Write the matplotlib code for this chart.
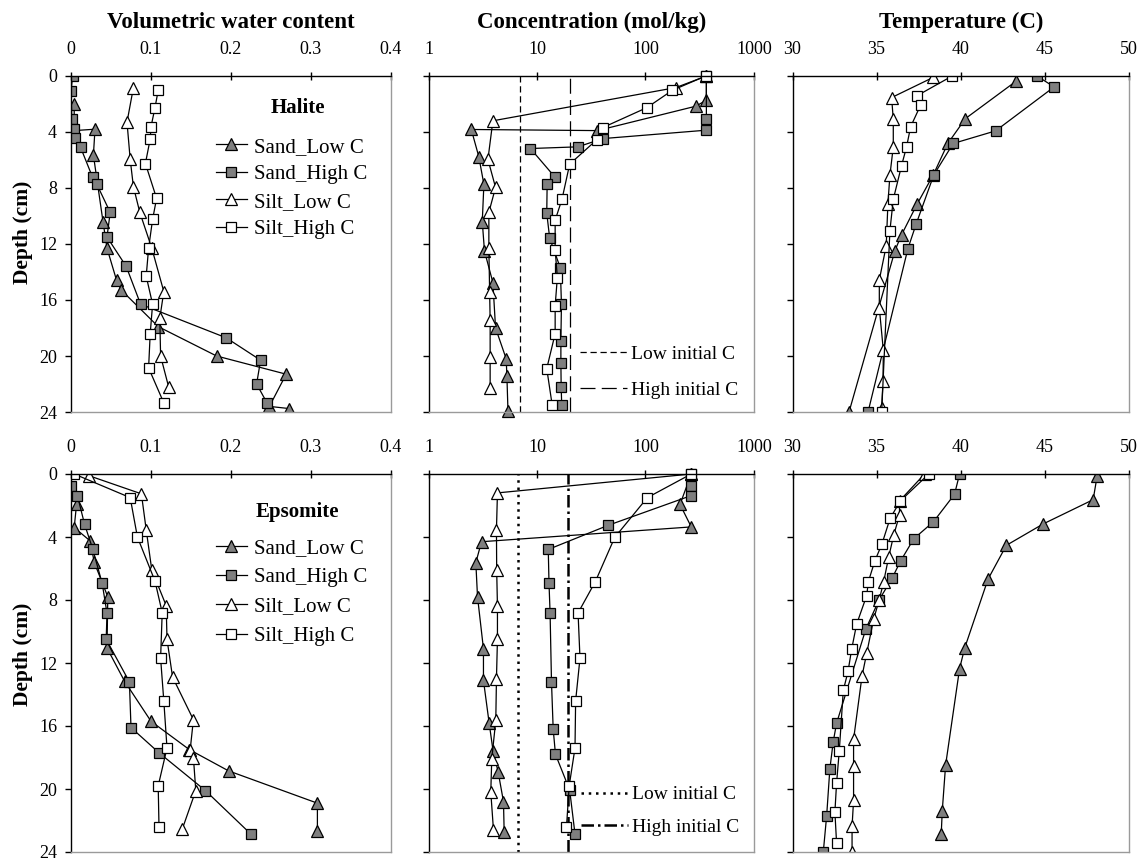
import matplotlib
matplotlib.use('Agg')
import matplotlib.pyplot as plt
from matplotlib.ticker import FixedLocator, NullLocator, FixedFormatter

plt.rcParams['font.family'] = ['Liberation Serif', 'DejaVu Serif']

# ---------------- Halite: volumetric water content ----------------
hal_vwc_sand_low = [0.004, 0.004, 0.030, 0.028, 0.040, 0.045, 0.057, 0.063, 0.109, 0.182, 0.269, 0.248, 0.272]
hal_vwc_sand_low_depth = [2.0, 3.9, 3.8, 5.65, 10.4, 12.3, 14.6, 15.3, 17.9, 20.0, 21.3, 23.6, 23.75]
hal_vwc_sand_high = [0.002, 0.0, 0.001, 0.004, 0.005, 0.012, 0.027, 0.032, 0.049, 0.045, 0.069, 0.087, 0.194, 0.237, 0.232, 0.245]
hal_vwc_sand_high_depth = [0, 1.07, 3.04, 3.82, 4.4, 5.1, 7.24, 7.7, 9.74, 11.5, 13.6, 16.3, 18.7, 20.3, 22.0, 23.35]
hal_vwc_silt_low = [0.078, 0.070, 0.074, 0.078, 0.086, 0.101, 0.116, 0.111, 0.112, 0.122]
hal_vwc_silt_low_depth = [0.83, 3.3, 5.96, 7.9, 9.74, 12.3, 15.4, 17.3, 20.0, 22.2]
hal_vwc_silt_high = [0.109, 0.105, 0.100, 0.099, 0.093, 0.107, 0.102, 0.097, 0.094, 0.102, 0.099, 0.097, 0.116]
hal_vwc_silt_high_depth = [1.02, 2.26, 3.63, 4.5, 6.25, 8.74, 10.24, 12.3, 14.3, 16.3, 18.4, 20.85, 23.35]

# ---------------- Halite: concentration (mol/kg) ----------------
hal_conc_sand_low = [364, 364, 290, 36, 2.48, 2.91, 3.24, 3.13, 3.28, 3.92, 4.15, 5.2, 5.28, 5.4]
hal_conc_sand_low_depth = [0, 1.73, 2.16, 3.9, 3.82, 5.77, 7.74, 10.4, 12.5, 14.75, 18.0, 20.2, 21.45, 23.9]
hal_conc_sand_high = [364, 364, 364, 40.5, 23.8, 8.7, 14.7, 12.4, 12.3, 13.1, 16.4, 16.8, 16.6, 16.6, 16.7, 16.9]
hal_conc_sand_high_depth = [0, 3.04, 3.87, 4.47, 5.06, 5.18, 7.24, 7.74, 9.8, 11.6, 13.7, 16.3, 18.9, 20.5, 22.2, 23.5]
hal_conc_silt_low = [364, 190, 3.92, 3.53, 4.15, 3.6, 3.6, 3.66, 3.7, 3.7, 3.7]
hal_conc_silt_low_depth = [0, 0.83, 3.2, 5.96, 7.96, 9.74, 12.3, 15.46, 17.46, 20.1, 22.3]
hal_conc_silt_high = [359, 177, 103, 40.5, 35.7, 20, 17, 14.7, 14.7, 15.4, 14.7, 14.7, 12.3, 13.8]
hal_conc_silt_high_depth = [0, 1.02, 2.26, 3.68, 4.54, 6.3, 8.8, 10.3, 12.4, 14.4, 16.4, 18.4, 20.9, 23.5]
hal_initial_low = 7.0
hal_initial_high = 20.0

# ---------------- Halite: temperature (C) ----------------
hal_temp_sand_low = [43.3, 40.28, 39.23, 38.36, 37.41, 36.48, 36.09, 33.36]
hal_temp_sand_low_depth = [0.36, 3.04, 4.82, 7.08, 9.14, 11.35, 12.47, 24.0]
hal_temp_sand_high = [44.53, 45.55, 42.07, 39.55, 38.4, 37.35, 36.86, 34.49]
hal_temp_sand_high_depth = [0, 0.78, 3.92, 4.82, 7.06, 10.57, 12.33, 24.0]
hal_temp_silt_low = [38.36, 35.89, 35.99, 35.99, 35.79, 35.67, 35.57, 35.16, 35.16, 35.4, 35.38, 35.3]
hal_temp_silt_low_depth = [0.1, 1.54, 3.09, 5.06, 7.08, 9.14, 12.14, 14.56, 16.58, 19.6, 21.8, 23.7]
hal_temp_silt_high = [39.49, 37.37, 37.61, 37.02, 36.78, 36.48, 35.99, 35.79, 35.3]
hal_temp_silt_high_depth = [0, 1.43, 2.09, 3.63, 5.06, 6.41, 8.81, 11.05, 24.0]

# ---------------- Epsomite: volumetric water content ----------------
eps_vwc_sand_low = [0.002, 0.007, 0.004, 0.024, 0.029, 0.046, 0.045, 0.067, 0.100, 0.148, 0.197, 0.308, 0.308]
eps_vwc_sand_low_depth = [1.16, 1.9, 3.4, 4.25, 5.6, 7.8, 11.05, 13.16, 15.7, 17.5, 18.85, 20.9, 22.65]
eps_vwc_sand_high = [0.0, 0.008, 0.017, 0.027, 0.039, 0.045, 0.044, 0.073, 0.075, 0.110, 0.168, 0.225]
eps_vwc_sand_high_depth = [0.74, 1.37, 3.2, 4.74, 6.95, 8.84, 10.5, 13.2, 16.1, 17.7, 20.1, 22.87]
eps_vwc_silt_low = [0.022, 0.088, 0.094, 0.101, 0.119, 0.120, 0.127, 0.153, 0.149, 0.153, 0.156, 0.139]
eps_vwc_silt_low_depth = [0.1, 1.26, 3.54, 6.1, 8.36, 10.5, 12.9, 15.6, 17.5, 18.0, 20.1, 22.56]
eps_vwc_silt_high = [0.004, 0.074, 0.083, 0.105, 0.114, 0.112, 0.116, 0.120, 0.109, 0.110]
eps_vwc_silt_high_depth = [0, 1.5, 4.0, 6.8, 8.8, 11.7, 14.4, 17.4, 19.8, 22.4]

# ---------------- Epsomite: concentration (mol/kg) ----------------
eps_conc_sand_low = [264, 208, 264, 3.08, 2.73, 2.83, 3.21, 3.21, 3.62, 3.94, 4.38, 4.91, 4.98]
eps_conc_sand_low_depth = [0, 1.93, 3.36, 4.3, 5.63, 7.8, 11.1, 13.1, 15.8, 17.6, 18.9, 20.8, 22.7]
eps_conc_sand_high = [264, 264, 264, 45.2, 12.7, 12.9, 13.2, 13.6, 14.1, 14.8, 20.0, 22.4]
eps_conc_sand_high_depth = [0, 0.74, 1.37, 3.26, 4.79, 6.93, 8.82, 13.2, 16.2, 17.8, 20.06, 22.86]
eps_conc_silt_low = [264, 4.32, 4.23, 4.25, 4.32, 4.32, 4.23, 4.17, 3.83, 3.75, 3.97]
eps_conc_silt_low_depth = [0, 1.2, 3.53, 6.1, 8.4, 10.5, 13.0, 15.65, 18.07, 20.2, 22.6]
eps_conc_silt_high = [264, 104, 52, 34.5, 23.9, 24.9, 22.7, 22.4, 19.8, 18.7]
eps_conc_silt_high_depth = [0, 1.5, 4.03, 6.83, 8.82, 11.7, 14.4, 17.4, 19.8, 22.4]
eps_initial_low = 6.75
eps_initial_high = 19.5

# ---------------- Epsomite: temperature (C) ----------------
eps_temp_sand_low = [48.11, 47.87, 44.9, 42.71, 41.62, 40.23, 39.93, 39.1, 38.9, 38.84]
eps_temp_sand_low_depth = [0.1, 1.63, 3.17, 4.53, 6.68, 11.06, 12.36, 18.48, 21.4, 22.86]
eps_temp_sand_high = [39.93, 39.63, 38.38, 37.21, 36.42, 35.92, 35.16, 34.37, 32.62, 32.42, 32.22, 32.03, 31.83]
eps_temp_sand_high_depth = [0, 1.29, 3.03, 4.11, 5.53, 6.62, 7.97, 9.81, 15.82, 17.0, 18.73, 21.7, 24.0]
eps_temp_silt_low = [37.85, 36.36, 36.36, 36.02, 35.72, 35.42, 35.16, 34.83, 34.41, 34.13, 33.63, 33.63, 33.63, 33.54, 33.54]
eps_temp_silt_low_depth = [0, 1.71, 2.61, 3.86, 5.26, 6.83, 7.97, 9.19, 11.38, 12.84, 16.85, 18.54, 20.71, 22.38, 24.0]
eps_temp_silt_high = [38.1, 36.41, 35.8, 35.32, 34.89, 34.51, 34.41, 33.81, 33.52, 33.3, 33.02, 32.78, 32.62, 32.52, 32.62]
eps_temp_silt_high_depth = [0, 1.71, 2.82, 4.43, 5.53, 6.83, 7.72, 9.54, 11.1, 12.53, 13.74, 17.58, 19.62, 21.46, 23.44]

series_names = ['Sand_Low C', 'Sand_High C', 'Silt_Low C', 'Silt_High C']
depth_ticks = [0, 4, 8, 12, 16, 20, 24]
vwc_ticks = [0, 0.1, 0.2, 0.3, 0.4]
vwc_labels = ['0', '0.1', '0.2', '0.3', '0.4']
conc_ticks = [1, 10, 100, 1000]
conc_labels = ['1', '10', '100', '1000']
temp_ticks = [30, 35, 40, 45, 50]
temp_labels = ['30', '35', '40', '45', '50']

# ---------------- layout ----------------
W, H = 1146, 861
fig = plt.figure(figsize=(W / 100, H / 100), dpi=100)

ROWS = [(76, 412), (474, 852)]
COLS = [(71, 391), (428.5, 754), (792.5, 1129)]
YLABEL_CENTERS = [232, 654]

GRAY = '#7f7f7f'
FRAME_GRAY = '#9a9a9a'
MARKERS = [('^', GRAY), ('s', GRAY), ('^', 'white'), ('s', 'white')]


def make_axes(col, row):
    x0, x1 = COLS[col]
    y0, y1 = ROWS[row]
    ax = fig.add_axes([x0 / W, 1 - y1 / H, (x1 - x0) / W, (y1 - y0) / H])
    ax.set_ylim(24, 0)
    ax.yaxis.set_major_locator(FixedLocator(depth_ticks))
    ax.xaxis.tick_top()
    for side in ('top', 'left'):
        ax.spines[side].set_color('black')
        ax.spines[side].set_linewidth(1.0)
    for side in ('right', 'bottom'):
        ax.spines[side].set_color(FRAME_GRAY)
        ax.spines[side].set_linewidth(1.0)
    ax.tick_params(axis='x', which='major', direction='inout', length=6, width=1.0,
                   pad=10, labelsize=13)
    ax.tick_params(axis='y', which='major', direction='out', length=4, width=1.0,
                   pad=6, labelsize=13)
    ax.tick_params(which='minor', length=0)
    if col == 0:
        ax.set_yticklabels([str(t) for t in depth_ticks])
    else:
        ax.set_yticklabels([])
    return ax


def draw_series(ax, values, depths, style_idx, clip=True):
    marker, face = MARKERS[style_idx]
    ms = 8.5 if marker == '^' else 7.5
    line, = ax.plot(values, depths, color='black', lw=0.9, marker=marker, ms=ms,
                    mfc=face, mec='black', mew=0.9, clip_on=clip,
                    label=series_names[style_idx])
    return line


def set_x(ax, ticks, labels, log=False):
    if log:
        ax.set_xscale('log')
    ax.set_xlim(ticks[0], ticks[-1])
    ax.xaxis.set_major_locator(FixedLocator(ticks))
    ax.xaxis.set_major_formatter(FixedFormatter(labels))
    ax.xaxis.set_minor_locator(NullLocator())


vwc_data = [
    [(hal_vwc_sand_low, hal_vwc_sand_low_depth), (hal_vwc_sand_high, hal_vwc_sand_high_depth),
     (hal_vwc_silt_low, hal_vwc_silt_low_depth), (hal_vwc_silt_high, hal_vwc_silt_high_depth)],
    [(eps_vwc_sand_low, eps_vwc_sand_low_depth), (eps_vwc_sand_high, eps_vwc_sand_high_depth),
     (eps_vwc_silt_low, eps_vwc_silt_low_depth), (eps_vwc_silt_high, eps_vwc_silt_high_depth)],
]
conc_data = [
    [(hal_conc_sand_low, hal_conc_sand_low_depth), (hal_conc_sand_high, hal_conc_sand_high_depth),
     (hal_conc_silt_low, hal_conc_silt_low_depth), (hal_conc_silt_high, hal_conc_silt_high_depth)],
    [(eps_conc_sand_low, eps_conc_sand_low_depth), (eps_conc_sand_high, eps_conc_sand_high_depth),
     (eps_conc_silt_low, eps_conc_silt_low_depth), (eps_conc_silt_high, eps_conc_silt_high_depth)],
]
temp_data = [
    [(hal_temp_sand_low, hal_temp_sand_low_depth), (hal_temp_sand_high, hal_temp_sand_high_depth),
     (hal_temp_silt_low, hal_temp_silt_low_depth), (hal_temp_silt_high, hal_temp_silt_high_depth)],
    [(eps_temp_sand_low, eps_temp_sand_low_depth), (eps_temp_sand_high, eps_temp_sand_high_depth),
     (eps_temp_silt_low, eps_temp_silt_low_depth), (eps_temp_silt_high, eps_temp_silt_high_depth)],
]
salts = ['Halite', 'Epsomite']
initial_levels = [(hal_initial_low, hal_initial_high), (eps_initial_low, eps_initial_high)]

# reference line styles for the initial concentrations, per row
initial_styles = [
    [dict(lw=0.9, ls=(0, (5, 3))), dict(lw=0.9, ls=(0, (12, 5)))],
    [dict(lw=1.8, ls=(0, (1, 1.9))), dict(lw=1.8, ls=(0, (5, 1.6, 1, 1.6)))],
]
legend_geom = [
    dict(salt_xy=(0.709, 0.905), leg_xy=(0.452, 0.818), spacing=0.38,
         init_xy=(0.465, 0.198), init_spacing=0.95),
    dict(salt_xy=(0.707, 0.900), leg_xy=(0.452, 0.830), spacing=0.47,
         init_xy=(0.468, 0.175), init_spacing=0.75),
]

for row in range(2):
    g = legend_geom[row]

    # volumetric water content
    ax = make_axes(0, row)
    set_x(ax, vwc_ticks, vwc_labels)
    handles = [draw_series(ax, v, d, i) for i, (v, d) in enumerate(vwc_data[row])]
    ax.text(*g['salt_xy'], salts[row], transform=ax.transAxes, ha='center', va='center',
            fontsize=15, fontweight='bold')
    ax.legend(handles=handles, loc='upper left', bbox_to_anchor=g['leg_xy'],
              frameon=False, fontsize=15, numpoints=1, handlelength=1.5,
              handletextpad=0.35, labelspacing=g['spacing'], borderpad=0,
              borderaxespad=0)
    fig.text(23 / W, 1 - YLABEL_CENTERS[row] / H, 'Depth (cm)', rotation=90,
             ha='center', va='center', fontsize=15.5, fontweight='bold')

    # concentration
    ax = make_axes(1, row)
    set_x(ax, conc_ticks, conc_labels, log=True)
    lo, hi = initial_levels[row]
    st_lo, st_hi = initial_styles[row]
    l_lo = ax.axvline(lo, color='black', **st_lo)
    l_hi = ax.axvline(hi, color='black', **st_hi)
    for i, (v, d) in enumerate(conc_data[row]):
        draw_series(ax, v, d, i, clip=False)
    ax.legend(handles=[l_lo, l_hi], labels=['Low initial C', 'High initial C'],
              loc='upper left', bbox_to_anchor=g['init_xy'], frameon=False,
              fontsize=14, handlelength=2.4, handletextpad=0.25,
              labelspacing=g['init_spacing'], borderpad=0, borderaxespad=0)

    # temperature
    ax = make_axes(2, row)
    set_x(ax, temp_ticks, temp_labels)
    for i, (v, d) in enumerate(temp_data[row]):
        draw_series(ax, v, d, i)

# column headers
header_y = 1 - 22 / H
for col, text in enumerate(['Volumetric water content', 'Concentration (mol/kg)', 'Temperature (C)']):
    x0, x1 = COLS[col]
    fig.text((x0 + x1) / 2 / W, header_y, text, ha='center', va='center',
             fontsize=16.5, fontweight='bold')

fig.savefig('out.png', dpi=100)
